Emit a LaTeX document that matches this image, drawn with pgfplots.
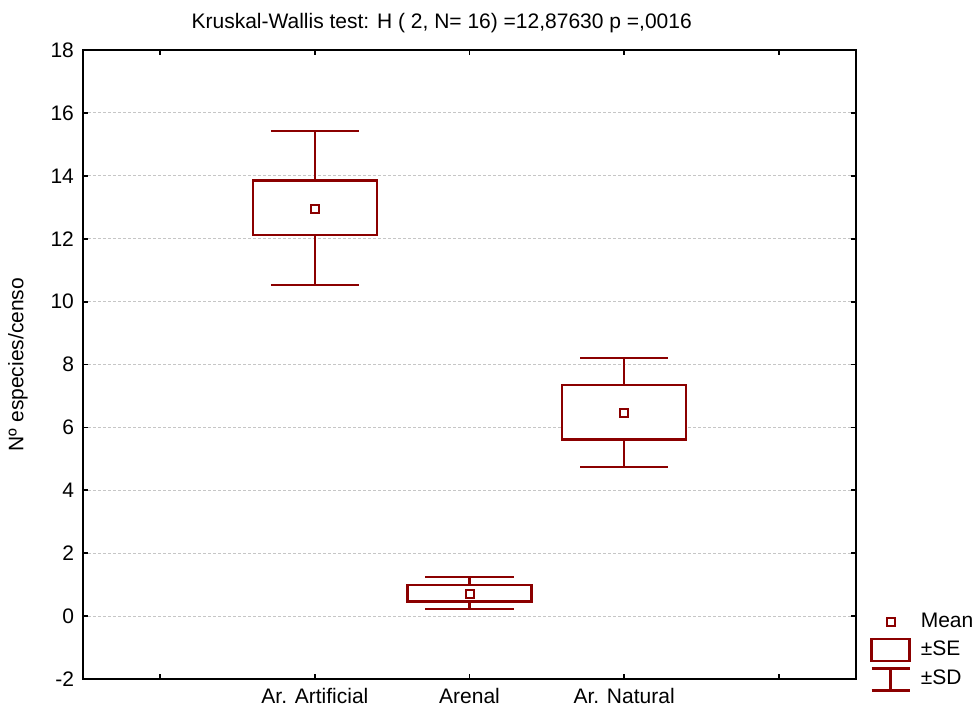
\documentclass[border=0pt]{standalone}
\usepackage{fontspec}
\setmainfont{Liberation Sans}
\usepackage{pgfplots}
\pgfplotsset{compat=1.18}
\usepgfplotslibrary{statistics}
\definecolor{dred}{RGB}{139,0,0}
\begin{document}
\begin{tikzpicture}[font=\fontsize{10.5pt}{12.5pt}\selectfont]
\useasboundingbox (-41.5pt,-19.5pt) rectangle (447pt,339.5pt);
\begin{axis}[
  at={(0,0)}, anchor=south west,
  scale only axis, width=386.5pt, height=314.5pt,
  xmin=-0.5, xmax=4.5, ymin=-2, ymax=18,
  xtick={0,1,2,3,4},
  xticklabels={,Ar. Artificial,Arenal,Ar. Natural,},
  ytick={-2,0,2,4,6,8,10,12,14,16,18},
  yticklabels={-2,0,2,4,6,8,10,12,14,16,18},
  tick align=inside, major tick length=2.5pt,
  every tick/.style={black, line width=0.9pt},
  axis line style={black, line width=1pt},
  ymajorgrids,
  major grid style={gray!45, line width=0.5pt, dash pattern=on 1.5pt off 1pt},
  yticklabel style={xshift=-1pt},
  xticklabel style={yshift=-1pt},
  title={Kruskal-Wallis test: H ( 2, N= 16) =12,87630 p =,0016},
  title style={at={(0.464,1)}, anchor=base, yshift=4.5pt},
  ylabel={Nº especies/censo},
  ylabel style={at={(axis description cs:0,0.5)}, anchor=center, yshift=32.5pt},
  boxplot/draw direction=y,
  boxplot/box extend=0.8,
  boxplot/whisker extend=0.57,
  boxplot/draw/median/.code={},
  boxplot/every box/.style={fill=white},
  legend style={at={(1,0)}, anchor=south west, xshift=7pt, yshift=-6.5pt,
    draw=none, fill=none, inner sep=0pt, row sep=2.5pt, column sep=5pt,
    nodes={inner sep=0pt, text height=8pt, text depth=2.5pt},
    font=\fontsize{10.5pt}{12.5pt}\selectfont},
  legend cell align=left,
]
\addplot[dred, line width=1.2pt, forget plot,
  boxplot prepared={draw position=1, lower whisker=10.53, lower quartile=12.12,
    median=12.93, upper quartile=13.85, upper whisker=15.42}] coordinates {};
\addplot[dred, line width=1.2pt, forget plot,
  boxplot prepared={draw position=2, lower whisker=0.23, lower quartile=0.46,
    median=0.70, upper quartile=0.98, upper whisker=1.25}] coordinates {};
\addplot[dred, line width=1.2pt, forget plot,
  boxplot prepared={draw position=3, lower whisker=4.75, lower quartile=5.62,
    median=6.45, upper quartile=7.35, upper whisker=8.21}] coordinates {};
\addplot[only marks, mark=square, mark size=2pt, dred,
  mark options={line width=1pt, fill=white}, forget plot]
  coordinates {(1,12.93) (2,0.70) (3,6.45)};
\addlegendimage{legend image code/.code={\draw[dred, line width=1pt, fill=white] (7.5pt,-2pt) rectangle (11.5pt,2pt);}}
\addlegendentry{Mean}
\addlegendimage{legend image code/.code={\draw[dred, line width=1.2pt] (0pt,-5.5pt) rectangle (19pt,5.5pt);}}
\addlegendentry{±SE}
\addlegendimage{legend image code/.code={\draw[dred, line width=1.2pt] (0pt,5.5pt) -- (19pt,5.5pt) (9.5pt,5.5pt) -- (9.5pt,-5.5pt) (0pt,-5.5pt) -- (19pt,-5.5pt);}}
\addlegendentry{±SD}
\end{axis}
\end{tikzpicture}
\end{document}
